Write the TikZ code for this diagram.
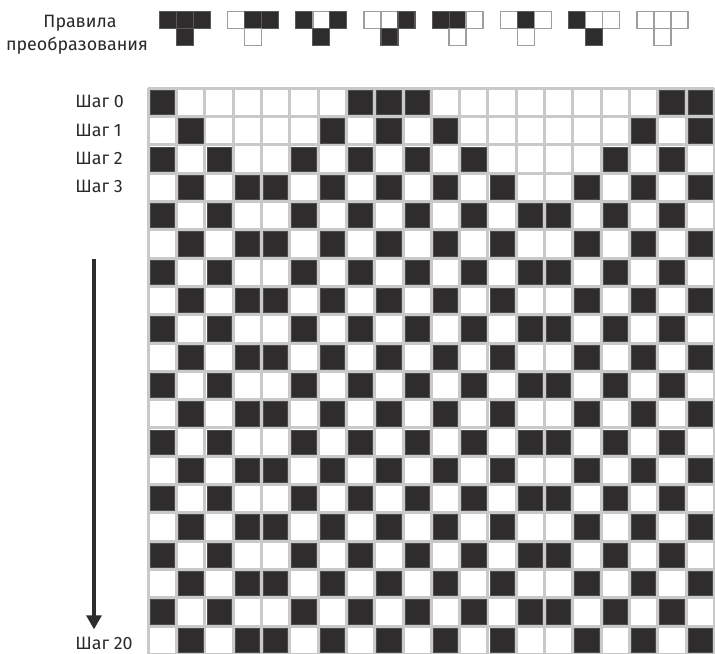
\documentclass[tikz,border=0pt]{standalone}
\usepackage{fontspec}
\setmainfont{Fira Sans}
\usetikzlibrary{arrows.meta}
\definecolor{cellblack}{HTML}{2E2C2D}
\definecolor{gridgray}{HTML}{C9C9C9}
\definecolor{icongray}{HTML}{9E9E9E}
\definecolor{txt}{HTML}{2A2A2A}
\newcommand\icell[3]{%
  \ifnum#3=1
    \filldraw[fill=cellblack,draw=black!65,line width=0.9pt] (#1,#2) rectangle ++(17,17);
  \else
    \filldraw[fill=white,draw=icongray,line width=1.1pt] (#1,#2) rectangle ++(17,17);
  \fi}
\begin{document}
\begin{tikzpicture}[x=0.75pt,y=-0.75pt,
  lbl/.style={font=\fontsize{13.4pt}{16pt}\selectfont, inner sep=0pt, text=txt},
  gridline/.style={draw=gridgray, line width=2.25pt},
  blackcell/.style={fill=cellblack, draw=black!70, line width=0.6pt}]
\useasboundingbox (0,0) rectangle (715,654);
\fill[white] (0,0) rectangle (715,654);
\def\gx{148.3}\def\gy{88.3}\def\gp{28.3}
% grid lines
\foreach \i in {0,...,20}{
  \draw[gridline] (\gx+\i*\gp,\gy) -- (\gx+\i*\gp,\gy+20*\gp);
  \draw[gridline] (\gx,\gy+\i*\gp) -- (\gx+20*\gp,\gy+\i*\gp);
}
% black cells
\newcommand\cellrow[2]{%
  \foreach \v [count=\c from 0] in {#2}{
    \ifnum\v=1
      \filldraw[blackcell] (\gx+\c*\gp+2,\gy+#1*\gp+2) rectangle ++(\gp-4,\gp-4);
    \fi
  }}
\cellrow{0}{1,0,0,0,0,0,0,1,1,1,0,0,0,0,0,0,0,0,1,1}
\cellrow{1}{0,1,0,0,0,0,1,0,1,0,1,0,0,0,0,0,0,1,0,1}
\cellrow{2}{1,0,1,0,0,1,0,1,0,1,0,1,0,0,0,0,1,0,1,0}
\foreach \r in {3,5,...,19}{\cellrow{\r}{0,1,0,1,1,0,1,0,1,0,1,0,1,0,0,1,0,1,0,1}}
\foreach \r in {4,6,...,18}{\cellrow{\r}{1,0,1,0,0,1,0,1,0,1,0,1,0,1,1,0,1,0,1,0}}
% rule icons
\foreach \k/\a/\b/\c/\d in {0/1/1/1/1,1/0/1/1/0,2/1/0/1/1,3/0/0/1/1,4/1/1/0/0,5/0/1/0/0,6/1/0/0/1,7/0/0/0/0}{
  \pgfmathsetmacro\ix{159.4+68.2*\k}
  \icell{\ix}{11.5}{\a}
  \icell{\ix+17}{11.5}{\b}
  \icell{\ix+34}{11.5}{\c}
  \icell{\ix+17}{28.5}{\d}
}
% labels
\node[lbl, anchor=base] (rules1) at (80,27.3) {Правила};
\node[lbl, anchor=base] (rules2) at (77,50) {преобразования};
\node[lbl, anchor=base west] (s0) at (75,107.7) {Шаг 0};
\node[lbl, anchor=base west] (s1) at (75,136) {Шаг 1};
\node[lbl, anchor=base west] (s2) at (75,164.3) {Шаг 2};
\node[lbl, anchor=base west] (s3) at (75,192.6) {Шаг 3};
\node[lbl, anchor=base west] (s20) at (75,649.8) {Шаг 20};
% arrow
\coordinate (atop) at (94,259);
\coordinate (abot) at (94,629.3);
\draw[cellblack, line width=2.4pt, -{Triangle[length=10.5pt,width=11.25pt]}] (atop) -- (abot);
\end{tikzpicture}
\end{document}
